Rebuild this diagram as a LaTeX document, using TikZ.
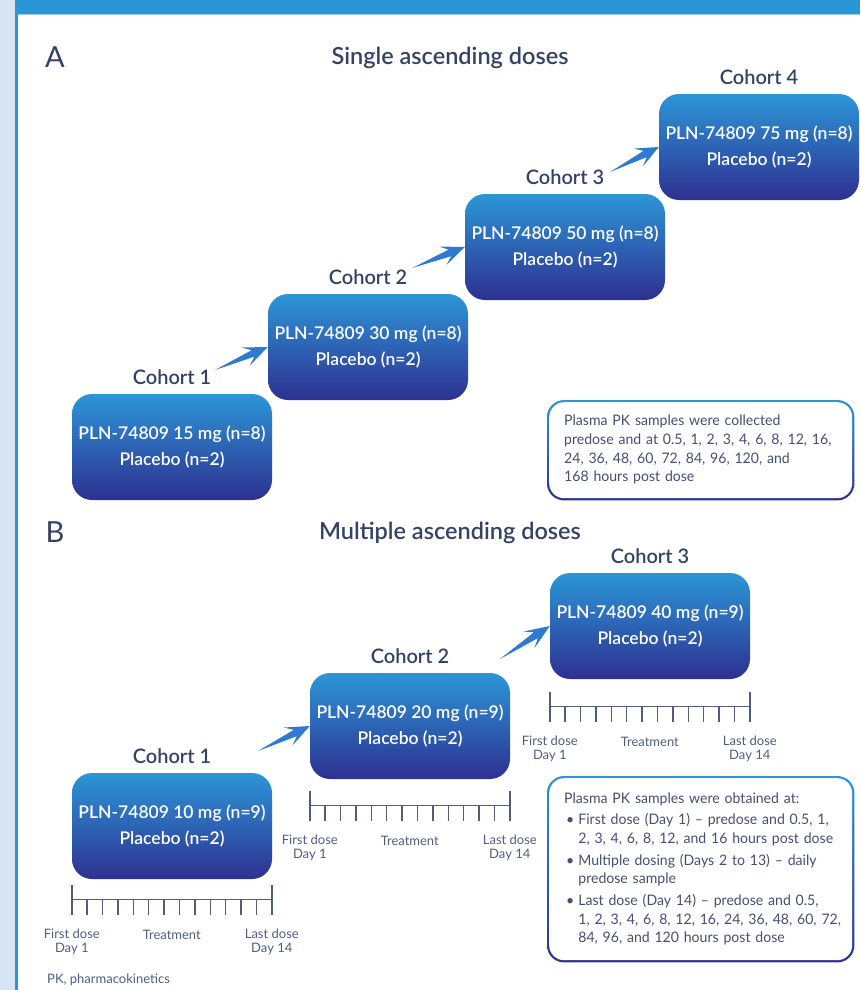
\documentclass[tikz,border=0pt]{standalone}
\usepackage{fontspec}
\setmainfont{Lato}
\newfontfamily\semib{Lato Semibold}
\newfontfamily\notefont{Lato}[FakeStretch=0.97]
\usetikzlibrary{positioning,calc,backgrounds}

\definecolor{boxtop}{RGB}{44,150,215}
\definecolor{boxbot}{RGB}{46,48,145}
\definecolor{framelight}{RGB}{214,228,243}
\definecolor{frameblue}{RGB}{43,150,214}
\definecolor{framepale}{RGB}{160,205,238}
\definecolor{txtblue}{RGB}{52,66,102}
\definecolor{notetxt}{RGB}{70,80,110}
\definecolor{tlgray}{RGB}{80,94,124}
\definecolor{arrowblue}{RGB}{45,122,208}

\begin{document}
\begin{tikzpicture}[
    x=1pt, y=-1pt,
    dosebox/.style={rounded corners=20pt, top color=boxtop, bottom color=boxbot, text=white, align=center,
      minimum width=200pt, minimum height=106pt, inner sep=0pt, font=\semib\fontsize{17.5}{26}\selectfont},
    cohortlbl/.style={text=txtblue, inner sep=0pt, font=\semib\fontsize{20}{22}\selectfont},
    titlelbl/.style={text=txtblue, font=\semib\fontsize{23.5}{26}\selectfont},
    partlbl/.style={text=txtblue, font=\fontsize{29}{32}\selectfont},
    notebox/.style={fill=white, rounded corners=15pt, text=notetxt, align=left, inner xsep=15pt,
      inner ysep=0pt, font=\notefont\fontsize{14.5}{18.7}\selectfont},
    noteedge/.style={top color=boxtop, bottom color=boxbot, rounded corners=17pt},
    wedge/.style={fill=arrowblue, to path={
      -- ($(\tikztostart)!.72!(\tikztotarget)!3.5pt!90:(\tikztotarget)$)
      -- ($(\tikztostart)!.58!(\tikztotarget)!10pt!90:(\tikztotarget)$)
      -- (\tikztotarget)
      -- ($(\tikztostart)!.58!(\tikztotarget)!10pt!-90:(\tikztotarget)$)
      -- ($(\tikztostart)!.72!(\tikztotarget)!3.5pt!-90:(\tikztotarget)$) -- cycle}},
    tlstroke/.style={draw=tlgray, line width=1.4pt},
    tllbl/.style={text=tlgray, align=center, inner sep=0pt, font=\fontsize{13}{14}\selectfont},
    timeline/.pic={
      \draw[tlstroke] (0,0) -- (200,0);
      \draw[tlstroke] (0,-14) -- (0,16);
      \draw[tlstroke] (200,-14) -- (200,16);
      \foreach \k in {1,...,12}
        \draw[tlstroke] (\k*200/13,0) -- ++(0,16);
      \node[tllbl] (first) at (0,43) {First dose\\Day 1};
      \node[tllbl] (treat) at (100,36) {Treatment};
      \node[tllbl] (last) at (200,43) {Last dose\\Day 14};
    }
  ]
  \useasboundingbox (0,0) rectangle (860,990);
  % frame
  \fill[framelight] (0,0) rectangle (15,990);
  \fill[frameblue] (15,0) rectangle (860,14);
  \fill[frameblue] (15,14) rectangle (17.5,990);
  \fill[framepale] (17.5,14) rectangle (860,15.5);

  % A: single ascending doses
  \node[partlbl] (parta) at (55,57) {A};
  \node[titlelbl] (sadtitle) at (450,58) {Single ascending doses};

  \node[dosebox] (sad1) at (172,447) {PLN-74809 15 mg (n=8)\\Placebo (n=2)};
  \node[dosebox] (sad2) at (368,347) {PLN-74809 30 mg (n=8)\\Placebo (n=2)};
  \node[dosebox] (sad3) at (565,247) {PLN-74809 50 mg (n=8)\\Placebo (n=2)};
  \node[dosebox] (sad4) at (759,147) {PLN-74809 75 mg (n=8)\\Placebo (n=2)};

  \node[cohortlbl, above=9pt of sad1] (sadlab1) {Cohort 1};
  \node[cohortlbl, above=9pt of sad2] (sadlab2) {Cohort 2};
  \node[cohortlbl, above=9pt of sad3] (sadlab3) {Cohort 3};
  \node[cohortlbl, above=9pt of sad4] (sadlab4) {Cohort 4};

  \coordinate (sadtail1) at (215,370);
  \coordinate (sadtail2) at (412,268);
  \coordinate (sadtail3) at (610,172);
  \path[wedge] (sadtail1) to (sad2.west);
  \path[wedge] (sadtail2) to (sad3.west);
  \path[wedge] (sadtail3) to (sad4.west);

  \node[notebox, anchor=north west, text width=273pt, minimum height=96pt] (sadnote) at (549,402) {%
    \begin{tabular}{@{}l@{}}
      Plasma PK samples were collected\\
      predose and at 0.5, 1, 2, 3, 4, 6, 8, 12, 16,\\
      24, 36, 48, 60, 72, 84, 96, 120, and\\
      168 hours post dose
    \end{tabular}};
  \begin{scope}[on background layer]
    \shade[noteedge] ($(sadnote.north west)+(-2,-2)$) rectangle ($(sadnote.south east)+(2,2)$);
  \end{scope}

  % B: multiple ascending doses
  \node[partlbl] (partb) at (55,532) {B};
  \node[titlelbl] (madtitle) at (450,533) {Multiple ascending doses};

  \node[dosebox] (mad1) at (172,826) {PLN-74809 10 mg (n=9)\\Placebo (n=2)};
  \node[dosebox] (mad2) at (410,726) {PLN-74809 20 mg (n=9)\\Placebo (n=2)};
  \node[dosebox] (mad3) at (650,626) {PLN-74809 40 mg (n=9)\\Placebo (n=2)};

  \node[cohortlbl, above=9pt of mad1] (madlab1) {Cohort 1};
  \node[cohortlbl, above=9pt of mad2] (madlab2) {Cohort 2};
  \node[cohortlbl, above=9pt of mad3] (madlab3) {Cohort 3};

  \coordinate (madtail1) at (258,751);
  \coordinate (madtail2) at (500,659);
  \path[wedge] (madtail1) to (mad2.west);
  \path[wedge] (madtail2) to (mad3.west);

  \pic (tl1) at ($(mad1.south west)+(0,20)$) {timeline};
  \pic (tl2) at ($(mad2.south west)+(0,26)$) {timeline};
  \pic (tl3) at ($(mad3.south west)+(0,27)$) {timeline};

  \node[notebox, anchor=north west, text width=273pt, minimum height=182pt] (madnote) at (549,778) {%
    \begin{tabular}{@{}l@{\hspace{4pt}}l@{}}
      \multicolumn{2}{@{}l@{}}{Plasma PK samples were obtained at:}\\[3pt]
      \hspace{2pt}\textbullet & First dose (Day 1) – predose and 0.5, 1,\\
                  & 2, 3, 4, 6, 8, 12, and 16 hours post dose\\[3pt]
      \hspace{2pt}\textbullet & Multiple dosing (Days 2 to 13) – daily\\
                  & predose sample\\[3pt]
      \hspace{2pt}\textbullet & Last dose (Day 14) – predose and 0.5,\\
                  & 1, 2, 3, 4, 6, 8, 12, 16, 24, 36, 48, 60, 72,\\
                  & 84, 96, and 120 hours post dose
    \end{tabular}};
  \begin{scope}[on background layer]
    \shade[noteedge] ($(madnote.north west)+(-2,-2)$) rectangle ($(madnote.south east)+(2,2)$);
  \end{scope}

  \node[anchor=west, inner sep=0pt, text=tlgray, font=\fontsize{13}{14}\selectfont] (pkfoot) at (47,980) {PK, pharmacokinetics};
\end{tikzpicture}
\end{document}
